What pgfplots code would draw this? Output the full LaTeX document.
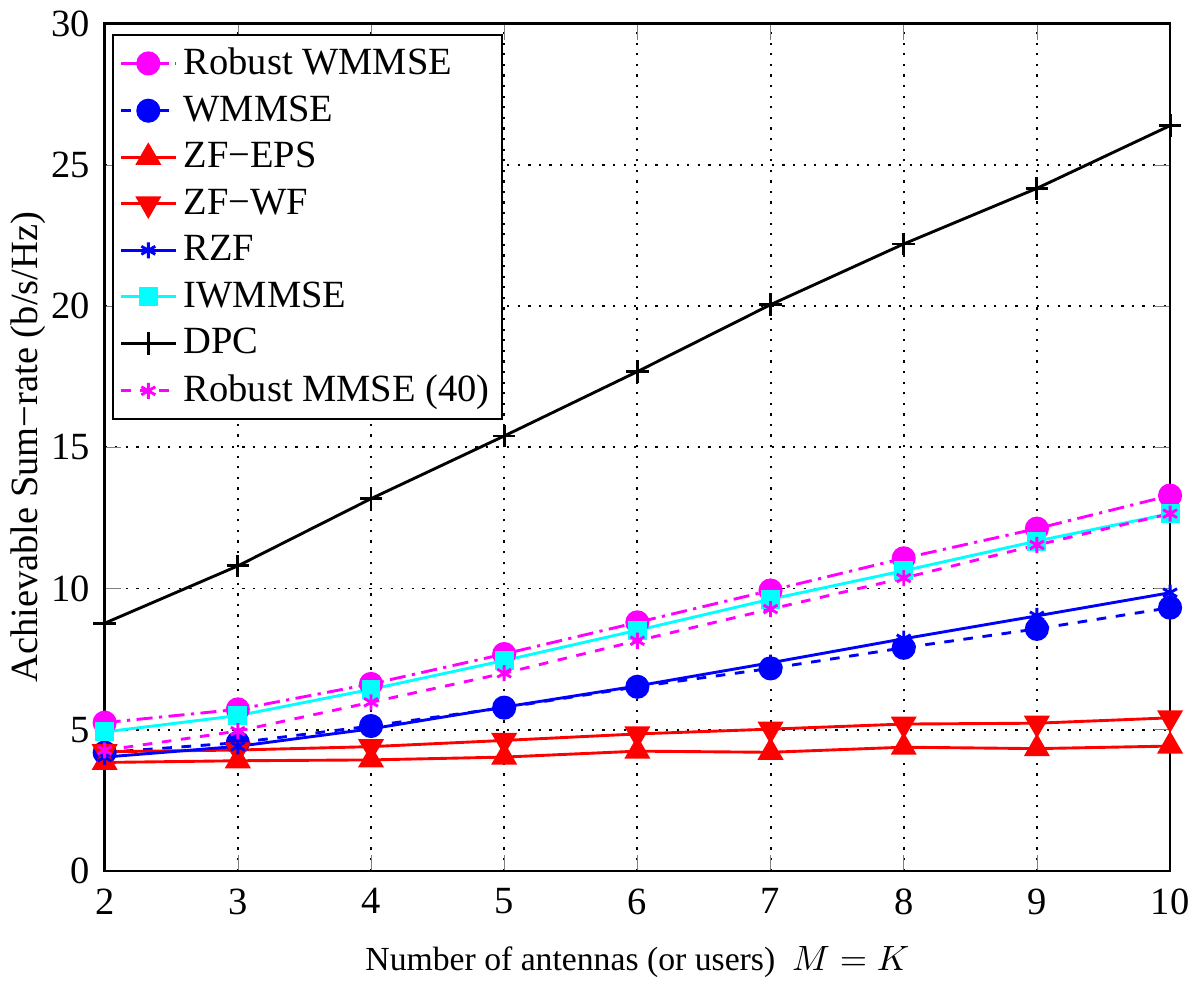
\documentclass[border=0pt]{standalone}
\usepackage{fontspec}
\setmainfont{Liberation Serif}
\usepackage{pgfplots}
\pgfplotsset{compat=1.18}
\definecolor{mmag}{RGB}{255,0,255}
\definecolor{mcyan}{RGB}{0,255,255}
\definecolor{mblue}{RGB}{0,0,255}
\definecolor{mred}{RGB}{255,0,0}

\begin{document}
\begin{tikzpicture}
\begin{axis}[
    width=332pt, height=264pt,
    scale only axis,
    xmin=2, xmax=10,
    ymin=0, ymax=30,
    xtick={2,3,...,10},
    ytick={0,5,...,30},
    tick align=inside,
    major tick length=5pt,
    xmajorgrids=true, ymajorgrids=true,
    grid style={black, line width=0.6pt, dash pattern=on 0.7pt off 2.6pt},
    axis line style={line width=0.8pt},
    /pgf/number format/assume math mode=true,
    ticklabel style={font=\large},
    xticklabel style={yshift=-2pt},
    yticklabel style={xshift=-1pt},
    xlabel style={font=\fontsize{10.5}{12}\selectfont, yshift=-3pt},
    ylabel style={font=\large, yshift=-5pt},
    xlabel={Number of antennas (or users)\ \ $M = K$},
    ylabel={Achievable Sum−rate (b/s/Hz)},
    legend style={at={(0.007,0.988)}, anchor=north west, draw=black,
        font=\large, row sep=1.1pt, inner sep=2pt,
        line width=0.6pt},
    legend cell align=left,
    every axis plot/.append style={line width=0.9pt},
]
\addplot[mmag, dash pattern=on 5pt off 2pt on 1pt off 2pt, mark=*, mark size=3.3pt, mark options={solid}]
  coordinates {(2,5.25) (3,5.72) (4,6.62) (5,7.68) (6,8.8) (7,9.93) (8,11.07) (9,12.12) (10,13.29)};
\addlegendentry{Robust WMMSE}
\addplot[mblue, dashed, mark=*, mark size=3.3pt, mark options={solid}]
  coordinates {(2,4.19) (3,4.54) (4,5.13) (5,5.78) (6,6.52) (7,7.17) (8,7.9) (9,8.57) (10,9.32)};
\addlegendentry{WMMSE}
\addplot[mred, mark=triangle*, mark size=3.8pt]
  coordinates {(2,3.84) (3,3.9) (4,3.93) (5,4.03) (6,4.24) (7,4.2) (8,4.38) (9,4.33) (10,4.42)};
\addlegendentry{ZF−EPS}
\addplot[mred, mark=triangle*, mark size=3.8pt, mark options={rotate=180}]
  coordinates {(2,4.22) (3,4.28) (4,4.4) (5,4.62) (6,4.85) (7,5.02) (8,5.2) (9,5.23) (10,5.42)};
\addlegendentry{ZF−WF}
\addplot[mblue, mark=asterisk, mark size=2.5pt]
  coordinates {(2,4.03) (3,4.41) (4,5.03) (5,5.8) (6,6.55) (7,7.37) (8,8.22) (9,9.03) (10,9.85)};
\addlegendentry{RZF}
\addplot[mcyan, mark=square*, mark size=2.5pt]
  coordinates {(2,4.92) (3,5.5) (4,6.43) (5,7.45) (6,8.52) (7,9.62) (8,10.63) (9,11.68) (10,12.65)};
\addlegendentry{IWMMSE}
\addplot[black, mark=+, mark size=3.5pt]
  coordinates {(2,8.77) (3,10.8) (4,13.18) (5,15.4) (6,17.68) (7,20.05) (8,22.2) (9,24.17) (10,26.39)};
\addlegendentry{DPC}
\addplot[mmag, dashed, mark=asterisk, mark size=2.5pt, mark options={solid}]
  coordinates {(2,4.27) (3,4.95) (4,5.97) (5,7.0) (6,8.15) (7,9.27) (8,10.37) (9,11.54) (10,12.65)};
\addlegendentry{Robust MMSE (40)}
\end{axis}
\end{tikzpicture}
\end{document}
